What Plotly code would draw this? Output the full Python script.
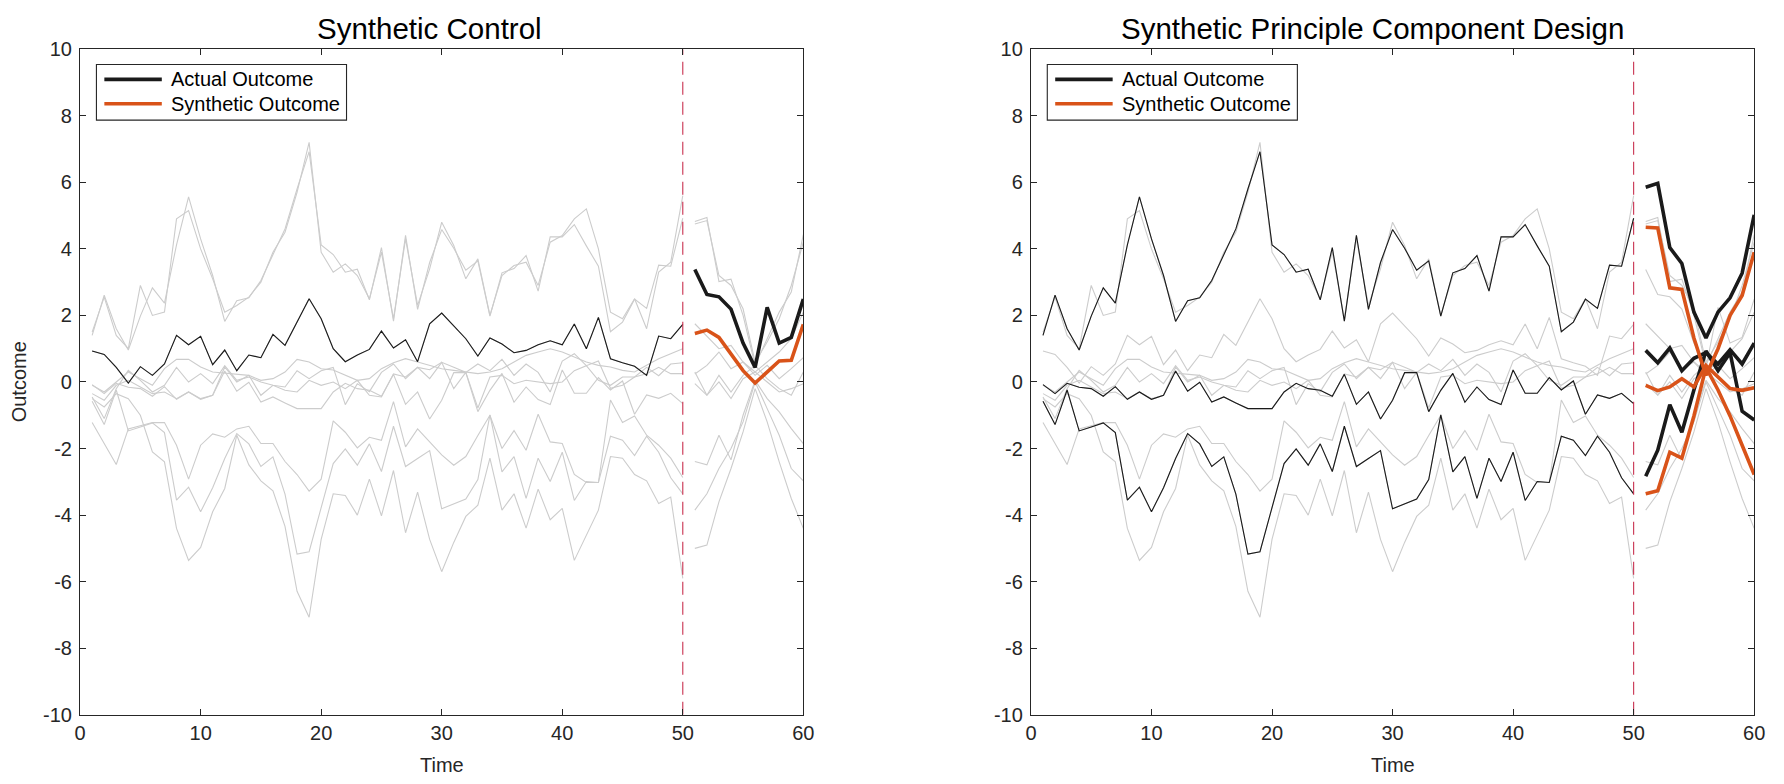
import plotly.graph_objects as go

W, H = 1784, 784

t_pre = list(range(1, 51))
t_post = list(range(51, 61))
x_ticks = [0, 10, 20, 30, 40, 50, 60]
y_ticks = [-10, -8, -6, -4, -2, 0, 2, 4, 6, 8, 10]
titles = ["Synthetic Control", "Synthetic Principle Component Design"]
legend_labels = ["Actual Outcome", "Synthetic Outcome"]
treat_time = 50

# ---- all units, pre-period (t = 1..50) ----
A_pre = [1.40, 2.61, 1.60, 0.96, 1.98, 2.83, 2.37, 4.12, 5.56, 4.30,
         3.20, 1.82, 2.44, 2.53, 3.05, 3.83, 4.60, 5.80, 6.92, 4.12,
         3.83, 3.30, 3.39, 2.47, 4.04, 1.83, 4.41, 2.18, 3.59, 4.58,
         4.02, 3.36, 3.64, 1.98, 3.28, 3.41, 3.80, 2.73, 4.36, 4.36,
         4.73, 4.09, 3.48, 1.51, 1.80, 2.49, 2.21, 3.51, 3.48, 4.92]
A2_pre = [1.50, 2.55, 1.40, 1.00, 2.90, 2.00, 2.10, 4.90, 5.15, 4.00,
          3.10, 2.10, 2.30, 2.55, 3.00, 3.90, 4.50, 5.70, 7.20, 3.90,
          3.30, 3.55, 3.20, 2.50, 3.90, 1.90, 4.30, 2.30, 3.40, 4.80,
          4.10, 3.10, 3.70, 2.00, 3.20, 3.50, 3.60, 2.90, 4.20, 4.40,
          4.90, 5.20, 4.00, 2.10, 1.90, 2.50, 1.60, 3.30, 3.60, 5.60]
D_pre = [0.93, 0.83, 0.44, -0.03, 0.46, 0.20, 0.54, 1.40, 1.12, 1.37,
         0.52, 0.96, 0.34, 0.81, 0.73, 1.43, 1.10, 1.80, 2.50, 1.90,
         1.00, 0.61, 0.81, 0.98, 1.53, 1.02, 1.27, 0.61, 1.75, 2.07,
         1.70, 1.30, 0.78, 1.32, 1.14, 0.88, 0.95, 1.12, 1.24, 1.12,
         1.74, 1.00, 1.94, 0.70, 0.58, 0.47, 0.20, 1.38, 1.30, 1.73]
M1_pre = [-0.10, -0.30, 0.00, 0.30, 0.10, -0.10, 0.40, 0.68, 0.68, 0.45,
          0.30, 0.26, 0.24, 0.20, 0.05, 0.10, 0.30, 0.68, 0.60, 0.40,
          0.36, 0.20, 0.05, 0.10, 0.40, 0.58, 0.70, 0.60, 0.50, 0.40,
          0.35, 0.30, 0.25, 0.30, 0.40, 0.60, 0.80, 0.90, 1.00, 0.90,
          0.75, 0.60, 0.50, 0.45, 0.35, 0.30, 0.50, 0.70, 0.85, 1.00]
M2_pre = [-0.45, -1.10, -0.20, 0.35, 0.05, -0.30, -0.10, 0.44, 0.00, 0.25,
          -0.05, 0.49, 0.05, 0.15, 0.00, -0.10, -0.15, 0.34, 0.10, 0.34,
          0.44, -0.68, -0.05, -0.29, 0.29, 0.54, 0.10, 0.44, 0.10, 0.59,
          -0.20, 0.29, -0.78, 0.15, 0.20, -0.05, 0.05, 0.00, -0.05, 0.00,
          0.34, 0.49, 0.05, -0.10, 0.15, 0.15, 0.25, 0.44, 0.25, 0.25]
M3_pre = [-0.35, -0.55, -0.10, 0.05, -0.15, -0.35, -0.30, -0.50, -0.30, -0.50,
          -0.40, 0.45, 0.00, 0.20, -0.40, -0.10, -0.25, -0.30, 0.05, -0.10,
          0.00, -0.20, 0.05, -0.40, -0.45, 0.24, 0.15, 0.44, 0.37, 0.59,
          0.44, 0.29, 0.54, 0.34, 0.68, 0.20, 0.54, 0.29, -0.30, 0.63,
          0.85, 0.49, 0.63, -0.19, -0.10, 0.15, 0.44, 0.19, 0.54, 0.58]
B_pre = [-0.08, -0.35, -0.04, -0.16, -0.20, -0.43, -0.14, -0.52, -0.30, -0.52,
         -0.40, 0.33, -0.28, -0.01, -0.60, -0.45, -0.63, -0.80, -0.80, -0.80,
         -0.30, -0.04, -0.20, -0.25, -0.43, 0.23, -0.67, -0.30, -1.11, -0.55,
         0.28, 0.28, -0.89, -0.25, 0.26, -0.61, -0.15, -0.53, -0.68, 0.36,
         -0.34, -0.34, 0.13, -0.24, 0.03, -0.97, -0.39, -0.49, -0.34, -0.65]
C_pre = [-0.58, -1.28, -0.24, -1.47, -1.35, -1.23, -1.52, -3.55, -3.16, -3.90,
         -3.18, -2.30, -1.55, -1.86, -2.54, -2.25, -3.37, -5.17, -5.10, -3.76,
         -2.45, -2.01, -2.50, -1.86, -2.69, -1.33, -2.54, -2.30, -2.06, -3.81,
         -3.66, -3.52, -2.93, -0.99, -2.70, -2.24, -3.50, -2.29, -2.99, -2.11,
         -3.56, -2.99, -3.02, -1.63, -1.75, -2.21, -1.63, -2.11, -2.88, -3.36]
L2_pre = [-1.22, -1.85, -2.48, -1.41, -1.32, -1.22, -1.22, -1.90, -2.92, -1.90,
          -1.56, -1.66, -1.41, -1.33, -1.85, -1.85, -2.39, -2.78, -3.28, -2.92,
          -1.17, -1.51, -1.98, -1.66, -1.75, -0.59, -1.95, -1.41, -1.80, -2.19,
          -2.50, -2.24, -1.61, -1.00, -2.00, -1.46, -2.05, -0.97, -1.80, -1.85,
          -2.78, -3.02, -3.02, -0.54, -1.22, -1.02, -1.60, -1.90, -2.29, -2.87]
L1_pre = [-0.50, -0.75, -0.35, -0.50, -1.00, -2.10, -2.40, -4.40, -5.36, -4.97,
          -3.90, -3.20, -1.60, -2.49, -2.97, -3.27, -4.34, -6.29, -7.07, -4.73,
          -3.36, -3.41, -4.00, -2.92, -4.02, -2.66, -4.53, -3.31, -4.73, -5.70,
          -4.82, -4.04, -3.70, -2.29, -3.85, -3.36, -4.39, -3.22, -4.14, -3.80,
          -5.36, -4.63, -3.85, -2.24, -2.29, -2.78, -2.97, -3.65, -3.46, -5.90]

# ---- all units, post-period (t = 51..60), as drawn in grey ----
A_post = [4.82, 4.94, 3.02, 3.09, 2.00, 0.50, 1.30, 2.10, 2.70, 4.43]
A2_post = [4.75, 4.85, 3.20, 2.90, 2.20, 0.60, 1.20, 1.90, 2.90, 4.20]
D_post = [3.38, 2.63, 2.56, 2.19, 1.17, 0.44, 2.24, 1.17, 1.34, 2.49]
M1_post = [1.75, 1.36, 1.00, 1.10, 0.60, 0.30, 0.60, 0.90, 1.30, 2.10]
M2_post = [0.24, 0.50, 0.90, 0.40, 0.60, 0.20, 0.50, 0.10, 0.40, 0.73]
M3_post = [-0.05, -0.40, 0.00, -0.50, 0.10, 0.30, 0.00, -0.30, -0.20, -0.05]
B_post = [0.30, -0.40, 0.20, -0.30, 0.20, 0.50, 0.10, -0.20, -0.40, 0.30]
C_post = [-2.39, -2.49, -1.60, -2.34, -1.00, 0.05, -0.50, -0.90, -1.40, -1.85]
L2_post = [-3.85, -3.36, -2.60, -2.00, -1.20, 0.00, -0.80, -1.60, -2.60, -2.97]
L1_post = [-5.00, -4.90, -3.60, -2.60, -1.50, -0.20, -1.20, -2.40, -3.50, -4.40]

# ---- left panel: treated unit D ----
D_actual = D_post
D_synth = [1.46, 1.56, 1.34, 0.83, 0.34, -0.03, 0.29, 0.63, 0.65, 1.73]

# ---- right panel: treated units A, B, C ----
A_actual = [5.85, 5.97, 4.04, 3.56, 2.10, 1.32, 2.10, 2.53, 3.27, 5.02]
A_synth = [4.65, 4.63, 2.83, 2.78, 1.32, 0.20, 1.00, 2.00, 2.60, 3.90]
B_actual = [0.95, 0.58, 1.02, 0.34, 0.71, 0.88, 0.54, 0.97, 0.54, 1.17]
B_synth = [-0.10, -0.26, -0.15, 0.10, -0.15, 0.50, 0.15, -0.20, -0.25, -0.17]
C_actual = [-2.83, -2.05, -0.68, -1.51, -0.24, 0.93, 0.34, 0.88, -0.88, -1.14]
C_synth = [-3.36, -3.27, -2.11, -2.29, -1.02, 0.44, -0.24, -1.02, -1.90, -2.78]

units_pre = [A_pre, A2_pre, D_pre, M1_pre, M2_pre, M3_pre, B_pre, C_pre, L2_pre, L1_pre]
units_post = [A_post, A2_post, D_post, M1_post, M2_post, M3_post, B_post, C_post, L2_post, L1_post]

GREY = "#CCCCCC"
BLACK = "#1A1A1A"
ORANGE = "#D95319"
RED = "#C9304F"
AX = "#262626"
FONT = "Liberation Sans, Arial, Helvetica, sans-serif"

# pixel geometry
LX0, LX1 = 74.8, 805.0
RX0, RX1 = 1034.8, 1765.0
YT, YB = 39.3, 724.1
TITLE_X = [428.0, 1380.0]


def px(x):
    return x / W


def py(y):
    return 1 - y / H


fig = go.Figure()

panels = [("x", "y"), ("x2", "y2")]
for xa, ya in panels:
    for pre, post in zip(units_pre, units_post):
        fig.add_trace(go.Scatter(x=t_pre + [None] + t_post, y=pre + [None] + post,
                                 mode="lines", line=dict(color=GREY, width=1.1),
                                 xaxis=xa, yaxis=ya, showlegend=False, hoverinfo="skip"))

# left: treated pre (thin black), post actual + synthetic
fig.add_trace(go.Scatter(x=t_pre, y=D_pre, mode="lines", line=dict(color=BLACK, width=1.1),
                         xaxis="x", yaxis="y", showlegend=False))
fig.add_trace(go.Scatter(x=[treat_time, treat_time], y=[y_ticks[0], y_ticks[-1]], mode="lines",
                         line=dict(color=RED, width=1.1, dash="13px,7px"),
                         xaxis="x", yaxis="y", showlegend=False))
fig.add_trace(go.Scatter(x=t_post, y=D_actual, mode="lines", line=dict(color=BLACK, width=3.6),
                         xaxis="x", yaxis="y", showlegend=False))
fig.add_trace(go.Scatter(x=t_post, y=D_synth, mode="lines", line=dict(color=ORANGE, width=3.6),
                         xaxis="x", yaxis="y", showlegend=False))

# right
for pre in [A_pre, B_pre, C_pre]:
    fig.add_trace(go.Scatter(x=t_pre, y=pre, mode="lines", line=dict(color=BLACK, width=1.1),
                             xaxis="x2", yaxis="y2", showlegend=False))
fig.add_trace(go.Scatter(x=[treat_time, treat_time], y=[y_ticks[0], y_ticks[-1]], mode="lines",
                         line=dict(color=RED, width=1.1, dash="13px,7px"),
                         xaxis="x2", yaxis="y2", showlegend=False))
for act in [A_actual, B_actual, C_actual]:
    fig.add_trace(go.Scatter(x=t_post, y=act, mode="lines", line=dict(color=BLACK, width=3.6),
                             xaxis="x2", yaxis="y2", showlegend=False))
for syn in [A_synth, B_synth, C_synth]:
    fig.add_trace(go.Scatter(x=t_post, y=syn, mode="lines", line=dict(color=ORANGE, width=3.6),
                             xaxis="x2", yaxis="y2", showlegend=False))

axis_common = dict(showline=True, linecolor=AX, linewidth=1.2, mirror="ticks",
                   ticks="inside", ticklen=6, tickwidth=1.1, tickcolor=AX,
                   showgrid=False, zeroline=False,
                   tickfont=dict(family=FONT, size=20, color=AX))
x_text = [str(v) for v in x_ticks]
y_text = [str(v) for v in y_ticks]

fig.update_layout(
    width=W, height=H, margin=dict(l=0, r=0, t=0, b=0),
    paper_bgcolor="white", plot_bgcolor="white", showlegend=False,
    xaxis=dict(domain=[px(LX0), px(LX1)], range=[0, 60], tickvals=x_ticks, ticktext=x_text,
               anchor="y", **axis_common),
    yaxis=dict(domain=[py(YB), py(YT)], range=[-10, 10], tickvals=y_ticks, ticktext=y_text,
               anchor="x", ticklabelstandoff=3, **axis_common),
    xaxis2=dict(domain=[px(RX0), px(RX1)], range=[0, 60], tickvals=x_ticks, ticktext=x_text,
                anchor="y2", **axis_common),
    yaxis2=dict(domain=[py(YB), py(YT)], range=[-10, 10], tickvals=y_ticks, ticktext=y_text,
                anchor="x2", ticklabelstandoff=3, **axis_common),
)

ann = []
shapes = []
for i, (x0, x1) in enumerate([(LX0, LX1), (RX0, RX1)]):
    xc = (x0 + x1) / 2
    ann.append(dict(text=titles[i], x=px(TITLE_X[i]), y=py(17.5), xref="paper", yref="paper",
                    xanchor="center", yanchor="middle", showarrow=False,
                    font=dict(family=FONT, size=29.5, color="black")))
    ann.append(dict(text="Time", x=px(xc), y=py(776), xref="paper", yref="paper",
                    xanchor="center", yanchor="middle", showarrow=False,
                    font=dict(family=FONT, size=20, color=AX)))
    # legend box
    bx0 = x0 + 16.5
    shapes.append(dict(type="rect", xref="paper", yref="paper",
                       x0=px(bx0), x1=px(bx0 + 252.5), y0=py(112.3), y1=py(55),
                       line=dict(color=AX, width=1.1), fillcolor="white", layer="above"))
    for j, (lab, col) in enumerate(zip(legend_labels, [BLACK, ORANGE])):
        ly = 70.3 + j * 25.2
        shapes.append(dict(type="line", xref="paper", yref="paper",
                           x0=px(bx0 + 8), x1=px(bx0 + 66), y0=py(ly), y1=py(ly),
                           line=dict(color=col, width=3.6), layer="above"))
        ann.append(dict(text=lab, x=px(bx0 + 73.5), y=py(ly), xref="paper", yref="paper",
                        xanchor="left", yanchor="middle", showarrow=False,
                        font=dict(family=FONT, size=20, color="black")))
ann.append(dict(text="Outcome", x=px(13.5), y=py((YT + YB) / 2), xref="paper", yref="paper",
                xanchor="center", yanchor="middle", showarrow=False, textangle=-90,
                font=dict(family=FONT, size=20, color=AX)))
fig.update_layout(annotations=ann, shapes=shapes)

fig.write_html("out.html", config={"displayModeBar": False},
               post_script="}); document.body.style.margin='0'; "
                           "document.body.style.overflow='hidden'; (function(){")
